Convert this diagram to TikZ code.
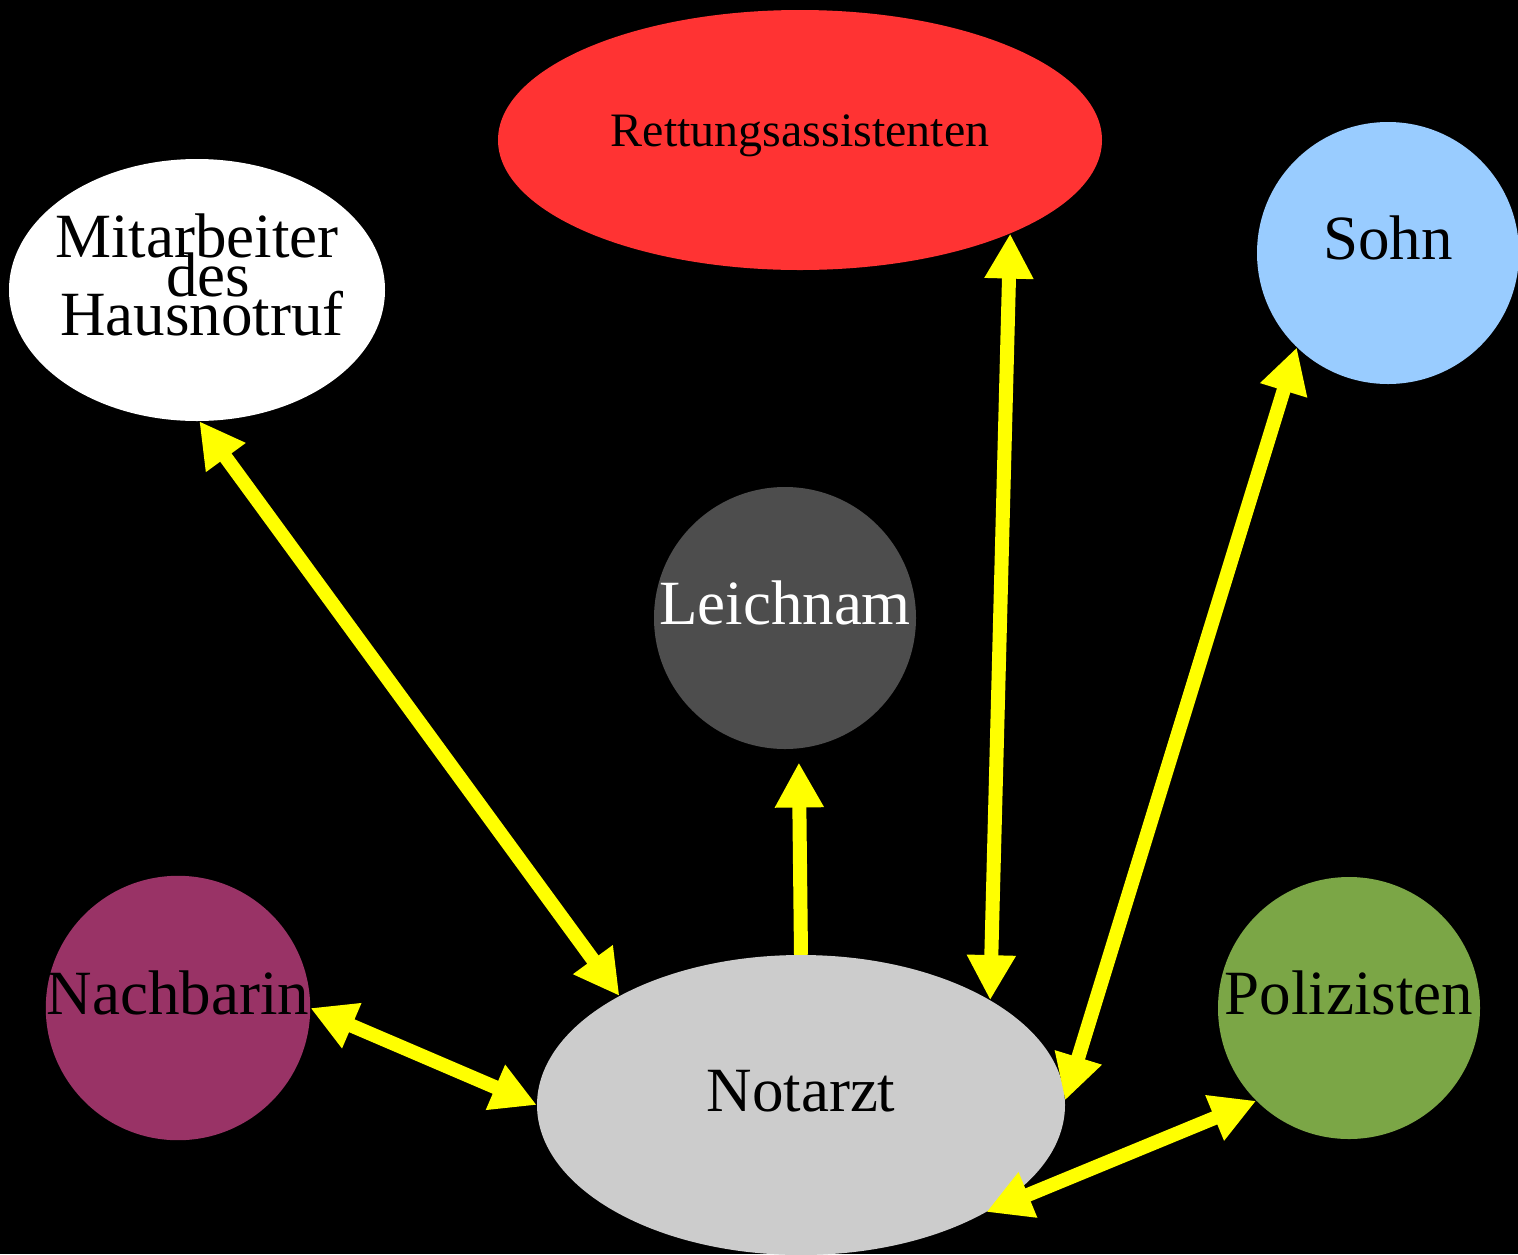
\documentclass[tikz,border=0pt]{standalone}
\usepackage{fontspec}
\setmainfont{Liberation Serif}
\usetikzlibrary{arrows.meta,shapes.geometric}
\definecolor{notarzt}{HTML}{CCCCCC}
\definecolor{retter}{HTML}{FF3333}
\definecolor{sohn}{HTML}{99CCFF}
\definecolor{leiche}{HTML}{4D4D4D}
\definecolor{nachbar}{HTML}{993366}
\definecolor{polizei}{HTML}{7BA646}
\definecolor{gelb}{HTML}{FFFF00}
\begin{document}
\begin{tikzpicture}[x=1pt, y=-1pt,
main/.style = {circle, minimum size=262pt, inner sep=0pt, font=\fontsize{63}{37}\selectfont, text height=24pt, text depth=12pt},
oval/.style = {ellipse, inner sep=0pt, font=\fontsize{63}{37}\selectfont, text height=24pt, text depth=12pt},
link/.style = {line width=14pt, draw=gelb, {Triangle[length=45pt,width=46pt]}-{Triangle[length=45pt,width=46pt]}}]
    \fill[black] (0,0) rectangle (1518,1254);
    \useasboundingbox (0,0) rectangle (1518,1254);

    \node[oval, fill=notarzt, minimum width=528pt, minimum height=300pt] (1) at (801,1105) {Notarzt};
    \node[oval, fill=white, minimum width=376pt, minimum height=262pt, align=center, text height=, text depth=, inner xsep=-30pt, inner ysep=-20pt] (2) at (197,290) {Mitarbeiter\\[-7pt]\hspace*{22pt}des\\[-7pt]\hspace*{10pt}Hausnotruf\rule[-31pt]{0pt}{0pt}};
    \node[oval, fill=retter, minimum width=604pt, minimum height=260pt, font=\fontsize{48}{58}\selectfont] (3) at (800,140) {Rettungsassistenten};
    \node[main, fill=sohn] (4) at (1388,253) {Sohn};
    \node[main, fill=leiche, text=white] (5) at (785,618) {Leichnam};
    \node[main, fill=nachbar] (6) at (178,1008) {Nachbarin};
    \node[main, fill=polizei] (7) at (1349,1008) {Polizisten};

    \draw[link] (1.149) -- (2.-89);
    \draw[link, -{Triangle[length=45pt,width=46pt]}, shorten >=14pt] (1.90) -- (5.-84);
    \draw[link] (1.29) -- (3.-24);
    \draw[link] (1.1) -- (4.-134);
    \draw[link] (1.180) -- (6.0);
    \draw[link] (1.-30) -- (7.-135);
\end{tikzpicture}
\end{document}
